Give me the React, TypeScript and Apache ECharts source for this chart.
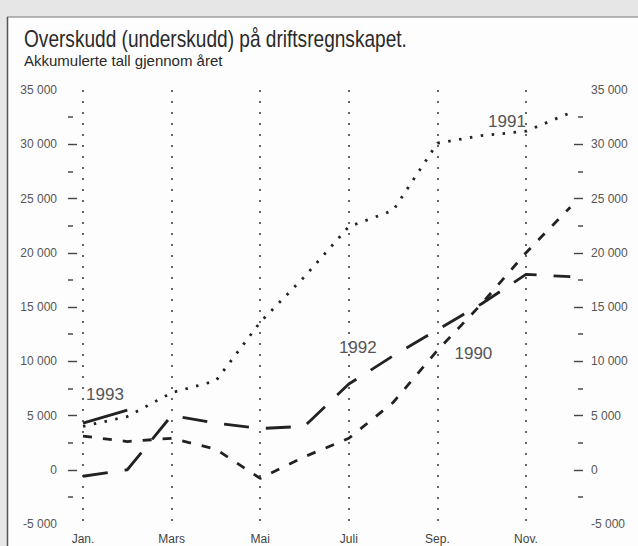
import React, { useEffect, useRef } from 'react';
import * as echarts from 'echarts';

// ---- data ----
const monthNums = [1, 2, 3, 4, 5, 6, 7, 8, 9, 10, 11, 12];
const labelMonths = [1, 3, 5, 7, 9, 11];
const monthNames = ['Jan.', 'Mars', 'Mai', 'Juli', 'Sep.', 'Nov.'];
const yTickValues = [0, 5000, 10000, 15000, 20000, 25000, 30000];

const s1990 = [3100, 2600, 2900, 1900, -800, 1200, 2900, 6200, 11000, 15300, 20000, 24200];
const s1991 = [4000, 4900, 7100, 8200, 13600, 17800, 22400, 23900, 30100, 30800, 31200, 32900];
const s1992 = [-600, 0, 5000, 4300, 3800, 4000, 7900, 10500, 12900, 15300, 18000, 17800];
const s1993 = [4300, 5500];

const titleText = 'Overskudd (underskudd) på driftsregnskapet.';
const subtitleText = 'Akkumulerte tall gjennom året';

// label anchor: [series name, point index, offset]
const seriesLabels: Record<string, { idx: number; offset: [number, number] }> = {
  '1990': { idx: 8, offset: [36, 3] },
  '1991': { idx: 10, offset: [-19, -10] },
  '1992': { idx: 6, offset: [9, -37] },
  '1993': { idx: 0, offset: [22, -29] },
};

function fmt(v: number): string {
  const a = Math.abs(Math.round(v));
  const s = a.toString().replace(/\B(?=(\d{3})+(?!\d))/g, ' ');
  return (v < 0 ? '-' : '') + s;
}

const INK = '#222';
const GREY = '#555';

function buildData(name: string, arr: number[]) {
  const lab = seriesLabels[name];
  return arr.map((v, i) => {
    const pt = [monthNums[i], v];
    if (lab && lab.idx === i) {
      return {
        value: pt,
        symbolSize: 1,
        label: {
          show: true,
          formatter: name,
          position: 'inside',
          offset: lab.offset,
          color: GREY,
          fontSize: 17,
          fontFamily: "'Liberation Sans', Arial, sans-serif",
        },
      };
    }
    return { value: pt, symbolSize: 0 };
  });
}

function lineSeries(name: string, arr: number[], type: any, width: number) {
  return {
    name,
    type: 'line',
    data: buildData(name, arr),
    showSymbol: true,
    symbol: 'circle',
    itemStyle: { color: 'rgba(0,0,0,0)', borderWidth: 0 },
    lineStyle: { color: INK, width, type, cap: 'butt' },
    emphasis: { disabled: true },
    silent: true,
    z: 3,
  };
}

function yAxisDef(position: 'left' | 'right', margin: number) {
  return {
    type: 'value',
    position,
    min: -5000,
    max: 35000,
    interval: 5000,
    axisLine: { show: false },
    axisTick: {
      show: true,
      inside: true,
      length: 9,
      customValues: yTickValues,
      lineStyle: { color: '#444', width: 1.4 },
    },
    minorTick: { show: true, splitNumber: 2, length: 5, lineStyle: { color: '#555', width: 1.6 } },
    splitLine: { show: false },
    axisLabel: {
      formatter: (v: number) => fmt(v),
      color: GREY,
      fontSize: 12,
      margin,
      fontFamily: "'Liberation Sans Narrow', 'Liberation Sans', Arial, sans-serif",
    },
  };
}

export default function App() {
  const ref = useRef<HTMLDivElement>(null);
  useEffect(() => {
    if (!ref.current) return;
    const chart = echarts.init(ref.current, null, { renderer: 'svg' });
    chart.setOption({
      animation: false,
      backgroundColor: '#fdfdfd',
      grid: { left: 68, right: 55, top: 90, bottom: 22, containLabel: false },
      xAxis: {
        type: 'value',
        min: 0.661,
        max: 12.287,
        axisLine: { show: false },
        axisTick: { show: false, customValues: labelMonths },
        axisLabel: {
          customValues: labelMonths,
          formatter: (v: number) => monthNames[labelMonths.indexOf(Math.round(v))] ?? '',
          color: '#444',
          fontSize: 12,
          margin: 9,
          fontFamily: "'Liberation Sans Narrow', 'Liberation Sans', Arial, sans-serif",
        },
        splitLine: { show: true, lineStyle: { type: [2, 9], color: '#333', width: 1.5 } },
      },
      yAxis: [yAxisDef('left', 11), yAxisDef('right', 8)],
      series: [
        lineSeries('1990', s1990, [9, 11], 2.8),
        lineSeries('1991', s1991, [2.5, 8.5], 2.8),
        lineSeries('1992', s1992, [25, 17], 2.8),
        lineSeries('1993', s1993, 'solid', 2.8),
      ],
      graphic: [
        { type: 'rect', shape: { x: 0, y: 0, width: 638, height: 17 }, style: { fill: '#e6e6e6' }, silent: true },
        { type: 'rect', shape: { x: 0, y: 0, width: 7, height: 546 }, style: { fill: '#e6e6e6' }, silent: true },
        { type: 'line', shape: { x1: 7, y1: 17, x2: 638, y2: 17 }, style: { stroke: '#777', lineWidth: 1.2 }, silent: true },
        { type: 'line', shape: { x1: 7.5, y1: 17, x2: 7.5, y2: 546 }, style: { stroke: '#555', lineWidth: 1.5 }, silent: true },
        {
          type: 'text',
          x: 24,
          y: 39,
          scaleX: 0.83,
          style: {
            text: titleText,
            fill: '#2a2a2a',
            fontSize: 23,
            fontFamily: "'Liberation Sans', Arial, sans-serif",
            align: 'left',
            verticalAlign: 'middle',
          },
          silent: true,
        },
        {
          type: 'text',
          x: 24,
          y: 60.5,
          scaleX: 1.0,
          style: {
            text: subtitleText,
            fill: '#2a2a2a',
            fontSize: 15,
            fontFamily: "'Liberation Sans', Arial, sans-serif",
            align: 'left',
            verticalAlign: 'middle',
          },
          silent: true,
        },
      ],
    });
    return () => chart.dispose();
  }, []);
  return (
    <div
      ref={ref}
      style={{ position: 'absolute', left: 0, top: 0, width: 638, height: 546 }}
    />
  );
}
